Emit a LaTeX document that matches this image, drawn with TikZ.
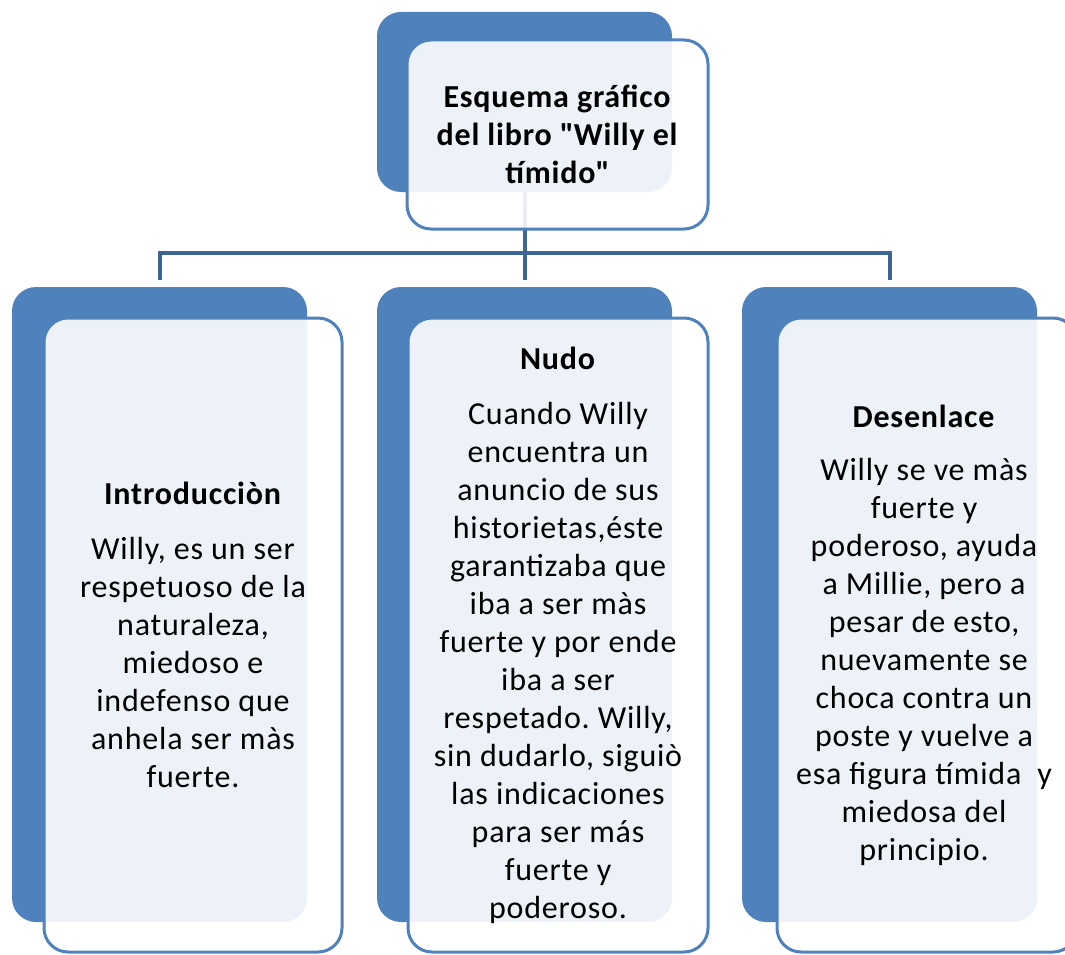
\documentclass[tikz,border=0pt]{standalone}
\usepackage{fontspec}
\setmainfont[LetterSpace=2.5]{Carlito}
\frenchspacing
\definecolor{accent}{HTML}{4F81BD}
\definecolor{linkc}{HTML}{3C6595}
\begin{document}
\begin{tikzpicture}[x=1pt,y=-1pt,
  back/.style={rectangle, rounded corners=24pt, fill=accent, inner sep=0pt, outer sep=0pt},
  front/.style={rectangle, rounded corners=24pt, draw=accent, line width=3pt, fill=white, fill opacity=0.9, text opacity=1, inner sep=0pt, outer sep=0pt},
  txt/.style={align=center, font=\fontsize{32}{38}\selectfont, text=black, inner sep=0pt},
  link/.style={draw=linkc, line width=4pt}]
\useasboundingbox (0,0) rectangle (1065,955);

% back boxes
\node[back, minimum width=295pt, minimum height=180pt] (topback) at (524.5,102) {};
\node[back, minimum width=295pt, minimum height=635pt] (leftback) at (159.5,604.5) {};
\node[back, minimum width=295pt, minimum height=635pt] (midback) at (524.5,604.5) {};
\node[back, minimum width=295pt, minimum height=635pt] (rightback) at (889.5,604.5) {};

% connectors
\coordinate (bus) at (524.5,253);
\draw[link] (topback.south) -- (topback.south |- bus);
\draw[link] ([yshift=7pt]leftback.north) -- (leftback.north |- bus) -- (rightback.north |- bus) -- ([yshift=7pt]rightback.north);
\draw[link] (midback.north |- bus) -- ([yshift=7pt]midback.north);

% front boxes
\node[front, minimum width=301pt, minimum height=189pt] (topfront) at (557.5,134.5) {};
\node[front, minimum width=298pt, minimum height=634pt] (leftfront) at (193,635) {};
\node[front, minimum width=300pt, minimum height=634pt] (midfront) at (558,635) {};
\node[front, minimum width=300pt, minimum height=634pt] (rightfront) at (927,635) {};

% texts
\node[txt] (toptext) at (topfront.center) {\textbf{Esquema gráfico}\\\textbf{del libro \textquotedbl Willy el}\\\textbf{tímido\textquotedbl}};
\node[txt] (lefttext) at (leftfront.center) {\textbf{Introducciòn}\\[17pt]
Willy, es un ser\\respetuoso de la\\naturaleza,\\miedoso e\\indefenso que\\anhela ser màs\\fuerte.};
\node[txt] (midtext) at (midfront.center) {\textbf{Nudo}\\[17pt]
Cuando Willy\\encuentra un\\anuncio de sus\\historietas,éste\\garantizaba que\\iba a ser màs\\fuerte y por ende\\iba a ser\\respetado. Willy,\\sin dudarlo, siguiò\\las indicaciones\\para ser más\\fuerte y\\poderoso.};
\node[txt] (righttext) at ([xshift=-3pt]rightfront.center) {\textbf{Desenlace}\\[15pt]
Willy se ve màs\\fuerte y\\poderoso, ayuda\\a Millie, pero a\\pesar de esto,\\nuevamente se\\choca contra un\\poste y vuelve a\\esa figura tímida\ \ y\\miedosa del\\principio.};
\end{tikzpicture}
\end{document}
